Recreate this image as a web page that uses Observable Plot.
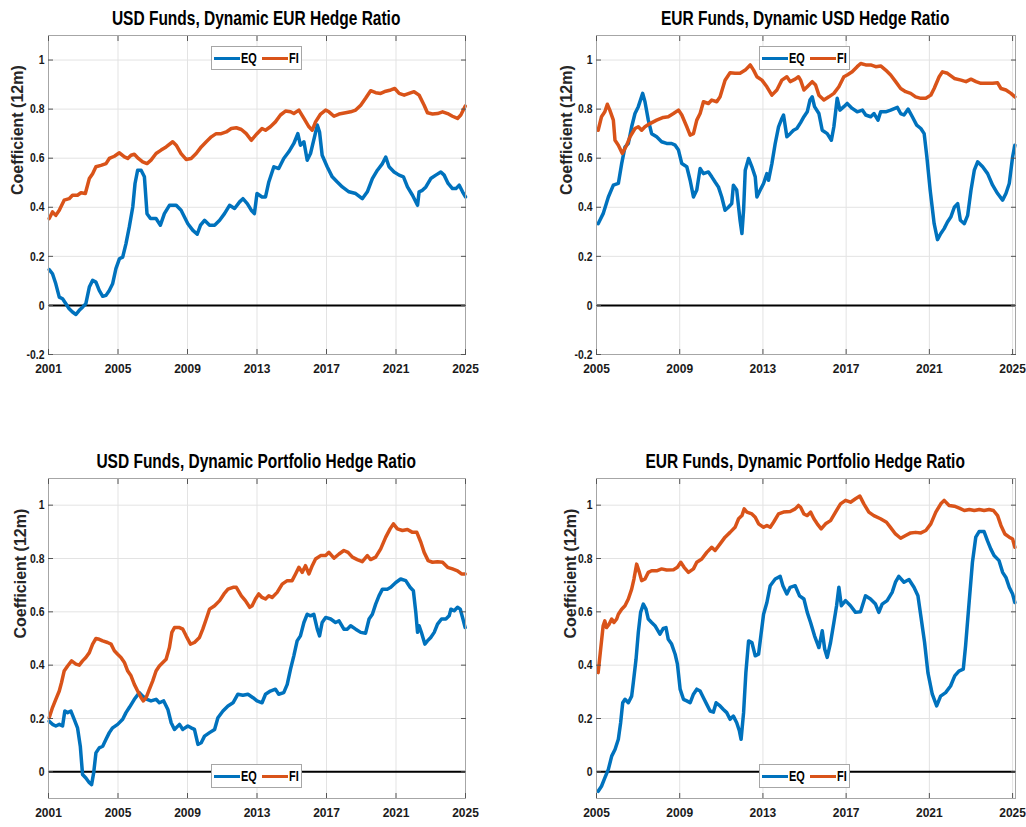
<!DOCTYPE html>
<html><head><meta charset="utf-8">
<script src="https://cdn.jsdelivr.net/npm/d3@7"></script>
<script src="https://cdn.jsdelivr.net/npm/@observablehq/plot@0.6"></script>
<style>
body{margin:0;background:#fff;}
#root{position:relative;width:1026px;height:827px;overflow:hidden;background:#fff;}
.title{position:absolute;height:30px;line-height:30px;text-align:center;white-space:nowrap;
  font-family:"Liberation Sans",Arial,sans-serif;font-weight:bold;font-size:20px;color:#000;}
.title span{display:inline-block;transform:scaleX(0.775);transform-origin:center;}
.panel{position:absolute;}
.panel svg{overflow:visible;}
.legend{position:absolute;border:1px solid #a6a6a6;background:#fff;box-sizing:border-box;
  font-family:"Liberation Sans",Arial,sans-serif;font-weight:bold;font-size:14px;color:#000;}
.legend .sw{position:absolute;width:26px;height:3px;top:10px;}
.legend .lt{position:absolute;top:3px;line-height:16px;transform:scaleX(0.78);transform-origin:left;white-space:nowrap;}
</style></head>
<body><div id="root"></div>
<script>
const seriesNames = ["EQ", "FI"];
const seriesColors = ["#0072BD", "#D95319"];
const yLabel = "Coefficient (12m)";
const titles = ["USD Funds, Dynamic EUR Hedge Ratio", "EUR Funds, Dynamic USD Hedge Ratio",
  "USD Funds, Dynamic Portfolio Hedge Ratio", "EUR Funds, Dynamic Portfolio Hedge Ratio"];
const xTicksUSD = [2001, 2005, 2009, 2013, 2017, 2021, 2025];
const xTicksEUR = [2005, 2009, 2013, 2017, 2021, 2025];
const yTicksTop = [-0.2, 0, 0.2, 0.4, 0.6, 0.8, 1];
const yTicksBottom = [0, 0.2, 0.4, 0.6, 0.8, 1];

// Panel 1: USD funds, EUR hedge ratio
const usdEurEQ = [[2001.04,0.146],[2001.23,0.129],[2001.42,0.088],[2001.62,0.034],[2001.81,0.027],[2002.0,0.007],[2002.19,-0.014],[2002.38,-0.027],[2002.58,-0.037],[2002.77,-0.02],[2002.96,-0.007],[2003.15,0.007],[2003.35,0.075],[2003.54,0.102],[2003.73,0.095],[2003.92,0.061],[2004.12,0.037],[2004.31,0.041],[2004.5,0.061],[2004.69,0.088],[2004.88,0.15],[2005.08,0.19],[2005.27,0.197],[2005.46,0.252],[2005.65,0.32],[2005.85,0.401],[2005.98,0.497],[2006.13,0.551],[2006.33,0.551],[2006.52,0.524],[2006.67,0.374],[2006.87,0.354],[2007.19,0.354],[2007.44,0.327],[2007.67,0.374],[2007.96,0.408],[2008.35,0.408],[2008.63,0.388],[2009.02,0.333],[2009.31,0.306],[2009.56,0.29],[2009.75,0.327],[2009.98,0.347],[2010.27,0.327],[2010.56,0.327],[2010.85,0.347],[2011.13,0.374],[2011.42,0.408],[2011.71,0.395],[2012.0,0.422],[2012.19,0.435],[2012.44,0.415],[2012.67,0.388],[2012.85,0.374],[2013.0,0.456],[2013.29,0.442],[2013.49,0.442],[2013.68,0.503],[2013.97,0.565],[2014.25,0.558],[2014.54,0.599],[2014.83,0.626],[2015.12,0.66],[2015.35,0.70],[2015.5,0.653],[2015.7,0.667],[2015.89,0.592],[2016.08,0.619],[2016.31,0.687],[2016.47,0.735],[2016.6,0.707],[2016.75,0.612],[2017.04,0.565],[2017.33,0.524],[2017.62,0.503],[2017.91,0.483],[2018.29,0.463],[2018.68,0.456],[2019.06,0.435],[2019.35,0.463],[2019.64,0.517],[2019.93,0.551],[2020.22,0.578],[2020.41,0.605],[2020.6,0.565],[2020.89,0.544],[2021.18,0.531],[2021.43,0.524],[2021.66,0.483],[2021.95,0.449],[2022.24,0.408],[2022.33,0.463],[2022.52,0.469],[2022.72,0.483],[2023.0,0.517],[2023.29,0.531],[2023.58,0.544],[2023.77,0.531],[2024.0,0.497],[2024.25,0.476],[2024.45,0.476],[2024.64,0.49],[2024.83,0.463],[2025.0,0.442]];
const usdEurFI = [[2001.04,0.354],[2001.23,0.381],[2001.42,0.367],[2001.62,0.388],[2001.9,0.429],[2002.19,0.435],[2002.38,0.449],[2002.67,0.449],[2002.87,0.459],[2003.12,0.456],[2003.35,0.517],[2003.54,0.537],[2003.73,0.565],[2004.02,0.571],[2004.31,0.578],[2004.5,0.599],[2004.79,0.608],[2005.08,0.622],[2005.37,0.605],[2005.56,0.599],[2005.75,0.612],[2005.94,0.616],[2006.17,0.599],[2006.42,0.585],[2006.67,0.578],[2006.9,0.592],[2007.19,0.619],[2007.48,0.633],[2007.77,0.646],[2008.15,0.667],[2008.35,0.653],[2008.63,0.619],[2008.92,0.595],[2009.21,0.599],[2009.5,0.619],[2009.79,0.646],[2010.08,0.667],[2010.37,0.687],[2010.65,0.70],[2010.94,0.70],[2011.23,0.707],[2011.52,0.721],[2011.81,0.724],[2012.1,0.717],[2012.38,0.70],[2012.67,0.673],[2013.0,0.70],[2013.29,0.721],[2013.49,0.714],[2013.77,0.728],[2014.06,0.748],[2014.35,0.776],[2014.64,0.792],[2014.93,0.789],[2015.12,0.782],[2015.41,0.796],[2015.7,0.762],[2015.99,0.728],[2016.18,0.714],[2016.37,0.748],[2016.66,0.78],[2016.95,0.796],[2017.14,0.789],[2017.43,0.771],[2017.72,0.78],[2018.1,0.785],[2018.39,0.789],[2018.68,0.796],[2018.97,0.816],[2019.25,0.844],[2019.54,0.875],[2019.83,0.867],[2020.12,0.864],[2020.41,0.873],[2020.7,0.878],[2020.93,0.884],[2021.18,0.864],[2021.47,0.857],[2021.75,0.864],[2022.04,0.871],[2022.33,0.857],[2022.62,0.816],[2022.81,0.785],[2023.1,0.78],[2023.39,0.782],[2023.68,0.789],[2023.97,0.782],[2024.25,0.771],[2024.54,0.762],[2024.73,0.776],[2024.98,0.812]];

// Panel 2: EUR funds, USD hedge ratio
const eurUsdEQ = [[2005.08,0.333],[2005.32,0.374],[2005.57,0.442],[2005.81,0.49],[2006.05,0.497],[2006.21,0.578],[2006.37,0.646],[2006.53,0.66],[2006.69,0.728],[2006.85,0.782],[2007.01,0.81],[2007.22,0.864],[2007.33,0.83],[2007.49,0.755],[2007.65,0.70],[2007.89,0.687],[2008.13,0.667],[2008.37,0.66],[2008.61,0.66],[2008.78,0.653],[2008.94,0.633],[2009.1,0.578],[2009.34,0.565],[2009.5,0.51],[2009.66,0.442],[2009.82,0.47],[2009.98,0.558],[2010.14,0.537],[2010.38,0.544],[2010.54,0.524],[2010.7,0.503],[2010.86,0.483],[2011.02,0.442],[2011.18,0.388],[2011.34,0.40],[2011.5,0.415],[2011.58,0.49],[2011.74,0.47],[2011.9,0.347],[2011.99,0.293],[2012.07,0.388],[2012.15,0.551],[2012.31,0.599],[2012.47,0.565],[2012.63,0.524],[2012.71,0.442],[2012.87,0.47],[2013.03,0.497],[2013.19,0.537],[2013.27,0.51],[2013.43,0.578],[2013.59,0.66],[2013.75,0.728],[2013.91,0.762],[2013.99,0.776],[2014.15,0.687],[2014.31,0.70],[2014.47,0.714],[2014.63,0.721],[2014.81,0.745],[2014.97,0.769],[2015.13,0.789],[2015.26,0.837],[2015.37,0.85],[2015.48,0.81],[2015.69,0.782],[2015.85,0.714],[2016.09,0.70],[2016.29,0.673],[2016.41,0.728],[2016.57,0.844],[2016.7,0.796],[2016.89,0.81],[2017.05,0.823],[2017.29,0.803],[2017.53,0.789],[2017.78,0.796],[2017.94,0.776],[2018.18,0.769],[2018.34,0.782],[2018.53,0.755],[2018.66,0.789],[2018.9,0.789],[2019.14,0.796],[2019.46,0.807],[2019.62,0.782],[2019.78,0.776],[2019.98,0.80],[2020.18,0.769],[2020.39,0.735],[2020.59,0.721],[2020.75,0.70],[2020.88,0.605],[2021.04,0.469],[2021.23,0.333],[2021.39,0.268],[2021.55,0.293],[2021.71,0.313],[2021.87,0.34],[2022.03,0.36],[2022.2,0.40],[2022.36,0.415],[2022.49,0.347],[2022.68,0.333],[2022.84,0.367],[2023.0,0.469],[2023.16,0.551],[2023.32,0.585],[2023.56,0.565],[2023.8,0.537],[2024.04,0.49],[2024.28,0.456],[2024.52,0.429],[2024.68,0.456],[2024.84,0.497],[2025.0,0.605],[2025.11,0.653]];
const eurUsdFI = [[2005.08,0.714],[2005.24,0.769],[2005.4,0.789],[2005.52,0.82],[2005.64,0.796],[2005.81,0.755],[2005.89,0.673],[2006.05,0.653],[2006.24,0.619],[2006.45,0.653],[2006.61,0.687],[2006.85,0.721],[2007.01,0.728],[2007.17,0.714],[2007.33,0.728],[2007.57,0.741],[2007.89,0.755],[2008.21,0.766],[2008.45,0.769],[2008.7,0.782],[2008.94,0.796],[2009.1,0.776],[2009.34,0.728],[2009.5,0.694],[2009.66,0.70],[2009.82,0.755],[2009.98,0.782],[2010.14,0.83],[2010.38,0.823],[2010.54,0.837],[2010.78,0.83],[2010.94,0.85],[2011.18,0.918],[2011.42,0.948],[2011.66,0.946],[2011.9,0.946],[2012.15,0.959],[2012.39,0.98],[2012.55,0.959],[2012.71,0.932],[2012.95,0.918],[2013.19,0.891],[2013.43,0.857],[2013.67,0.878],[2013.91,0.918],[2014.15,0.932],[2014.31,0.912],[2014.55,0.922],[2014.71,0.932],[2014.81,0.918],[2014.97,0.878],[2015.13,0.891],[2015.37,0.912],[2015.53,0.898],[2015.69,0.857],[2015.93,0.837],[2016.17,0.85],[2016.41,0.864],[2016.65,0.891],[2016.89,0.932],[2017.05,0.939],[2017.29,0.952],[2017.53,0.973],[2017.7,0.986],[2017.94,0.98],[2018.18,0.98],[2018.42,0.973],[2018.66,0.976],[2018.9,0.959],[2019.14,0.939],[2019.38,0.912],[2019.62,0.884],[2019.86,0.871],[2020.1,0.864],[2020.34,0.85],[2020.59,0.844],[2020.83,0.844],[2021.07,0.857],[2021.23,0.884],[2021.47,0.932],[2021.63,0.952],[2021.87,0.946],[2022.2,0.925],[2022.52,0.918],[2022.76,0.912],[2023.0,0.922],[2023.24,0.912],[2023.48,0.905],[2023.8,0.905],[2024.04,0.905],[2024.28,0.907],[2024.44,0.884],[2024.68,0.878],[2024.92,0.864],[2025.11,0.85]];

// Panel 3: USD funds, portfolio hedge ratio
const usdPortEQ = [[2001.04,0.19],[2001.23,0.178],[2001.42,0.172],[2001.62,0.178],[2001.81,0.172],[2001.94,0.228],[2002.1,0.222],[2002.29,0.228],[2002.48,0.197],[2002.67,0.165],[2002.83,0.096],[2002.96,-0.01],[2003.15,-0.023],[2003.35,-0.041],[2003.48,-0.048],[2003.6,-0.004],[2003.73,0.071],[2003.92,0.09],[2004.12,0.096],[2004.31,0.122],[2004.5,0.147],[2004.69,0.165],[2004.98,0.178],[2005.27,0.197],[2005.46,0.222],[2005.65,0.241],[2005.94,0.272],[2006.23,0.297],[2006.42,0.284],[2006.67,0.272],[2006.9,0.266],[2007.19,0.272],[2007.38,0.259],[2007.63,0.266],[2007.87,0.234],[2008.06,0.184],[2008.25,0.159],[2008.54,0.178],[2008.73,0.159],[2009.02,0.172],[2009.21,0.165],[2009.4,0.159],[2009.6,0.103],[2009.79,0.109],[2009.98,0.134],[2010.27,0.147],[2010.56,0.159],[2010.75,0.203],[2011.04,0.228],[2011.33,0.247],[2011.62,0.259],[2011.9,0.291],[2012.19,0.287],[2012.48,0.291],[2012.77,0.278],[2013.0,0.266],[2013.29,0.259],[2013.49,0.291],[2013.77,0.303],[2014.06,0.31],[2014.25,0.291],[2014.54,0.297],[2014.74,0.328],[2014.93,0.385],[2015.12,0.435],[2015.31,0.491],[2015.5,0.51],[2015.7,0.56],[2015.89,0.591],[2016.08,0.585],[2016.27,0.591],[2016.47,0.535],[2016.6,0.51],[2016.75,0.56],[2016.95,0.579],[2017.24,0.573],[2017.52,0.56],[2017.72,0.566],[2018.0,0.535],[2018.2,0.535],[2018.39,0.548],[2018.68,0.535],[2018.97,0.523],[2019.25,0.52],[2019.45,0.573],[2019.64,0.591],[2019.83,0.629],[2020.02,0.66],[2020.22,0.685],[2020.5,0.685],[2020.7,0.692],[2020.99,0.71],[2021.27,0.723],[2021.56,0.717],[2021.81,0.692],[2022.0,0.679],[2022.14,0.598],[2022.24,0.523],[2022.33,0.548],[2022.46,0.523],[2022.66,0.479],[2022.81,0.491],[2023.0,0.504],[2023.2,0.523],[2023.39,0.554],[2023.62,0.573],[2023.87,0.573],[2024.06,0.585],[2024.16,0.61],[2024.35,0.604],[2024.54,0.617],[2024.7,0.61],[2024.83,0.579],[2024.98,0.541]];
const usdPortFI = [[2001.04,0.203],[2001.23,0.241],[2001.42,0.272],[2001.62,0.303],[2001.75,0.335],[2001.9,0.378],[2002.1,0.397],[2002.33,0.416],[2002.58,0.404],[2002.77,0.40],[2002.96,0.416],[2003.15,0.429],[2003.35,0.447],[2003.54,0.479],[2003.73,0.50],[2003.92,0.497],[2004.12,0.491],[2004.4,0.485],[2004.6,0.479],[2004.79,0.454],[2004.98,0.441],[2005.17,0.429],[2005.37,0.41],[2005.56,0.378],[2005.75,0.36],[2005.94,0.328],[2006.13,0.303],[2006.33,0.278],[2006.46,0.266],[2006.62,0.278],[2006.81,0.31],[2007.0,0.341],[2007.19,0.378],[2007.38,0.397],[2007.58,0.41],[2007.77,0.422],[2007.96,0.466],[2008.1,0.523],[2008.25,0.541],[2008.54,0.541],[2008.73,0.535],[2008.92,0.51],[2009.17,0.479],[2009.4,0.485],[2009.69,0.504],[2009.88,0.535],[2010.08,0.573],[2010.27,0.61],[2010.56,0.623],[2010.85,0.642],[2011.1,0.667],[2011.33,0.685],[2011.62,0.692],[2011.81,0.692],[2012.1,0.66],[2012.33,0.642],[2012.58,0.617],[2012.72,0.623],[2012.91,0.648],[2013.1,0.667],[2013.29,0.654],[2013.49,0.648],[2013.68,0.66],[2013.87,0.654],[2014.16,0.673],[2014.45,0.704],[2014.74,0.717],[2015.02,0.717],[2015.22,0.742],[2015.41,0.767],[2015.6,0.748],[2015.79,0.773],[2015.99,0.742],[2016.18,0.773],[2016.37,0.798],[2016.66,0.811],[2016.95,0.811],[2017.14,0.823],[2017.43,0.801],[2017.72,0.817],[2018.0,0.83],[2018.24,0.823],[2018.49,0.805],[2018.77,0.796],[2019.06,0.788],[2019.35,0.811],[2019.54,0.796],[2019.83,0.805],[2020.12,0.836],[2020.41,0.88],[2020.66,0.911],[2020.85,0.93],[2021.08,0.911],[2021.37,0.905],[2021.66,0.909],[2021.95,0.898],[2022.2,0.898],[2022.43,0.861],[2022.62,0.823],[2022.85,0.792],[2023.1,0.786],[2023.39,0.788],[2023.68,0.786],[2023.97,0.767],[2024.25,0.761],[2024.54,0.754],[2024.77,0.742],[2024.98,0.742]];

// Panel 4: EUR funds, portfolio hedge ratio
const eurPortEQ = [[2005.08,-0.073],[2005.24,-0.054],[2005.4,-0.023],[2005.57,0.009],[2005.73,0.059],[2005.89,0.084],[2006.05,0.122],[2006.16,0.184],[2006.26,0.259],[2006.37,0.272],[2006.53,0.259],[2006.69,0.284],[2006.77,0.335],[2006.9,0.422],[2007.01,0.523],[2007.12,0.598],[2007.25,0.629],[2007.38,0.61],[2007.49,0.573],[2007.65,0.56],[2007.81,0.548],[2008.05,0.516],[2008.21,0.538],[2008.34,0.541],[2008.45,0.497],[2008.61,0.479],[2008.78,0.441],[2008.89,0.404],[2009.02,0.31],[2009.18,0.272],[2009.34,0.266],[2009.5,0.259],[2009.66,0.291],[2009.82,0.31],[2009.98,0.303],[2010.14,0.278],[2010.3,0.253],[2010.46,0.228],[2010.62,0.224],[2010.75,0.259],[2010.94,0.247],[2011.1,0.234],[2011.26,0.222],[2011.42,0.197],[2011.58,0.209],[2011.74,0.184],[2011.87,0.153],[2011.95,0.122],[2012.07,0.222],[2012.18,0.372],[2012.31,0.491],[2012.47,0.485],[2012.63,0.435],[2012.79,0.441],[2012.9,0.51],[2013.03,0.591],[2013.19,0.635],[2013.35,0.698],[2013.59,0.723],[2013.83,0.733],[2013.96,0.698],[2014.15,0.667],[2014.31,0.692],[2014.55,0.698],[2014.76,0.66],[2014.97,0.648],[2015.13,0.598],[2015.29,0.56],[2015.48,0.51],[2015.69,0.466],[2015.85,0.529],[2015.97,0.46],[2016.09,0.429],[2016.25,0.485],[2016.41,0.56],[2016.54,0.623],[2016.65,0.692],[2016.77,0.623],[2016.97,0.642],[2017.21,0.623],[2017.45,0.598],[2017.69,0.60],[2017.93,0.66],[2018.17,0.648],[2018.41,0.629],[2018.57,0.598],[2018.73,0.629],[2018.97,0.642],[2019.21,0.673],[2019.37,0.711],[2019.53,0.733],[2019.78,0.711],[2020.02,0.721],[2020.26,0.692],[2020.45,0.66],[2020.61,0.573],[2020.77,0.485],[2020.93,0.372],[2021.14,0.291],[2021.35,0.247],[2021.54,0.284],[2021.78,0.297],[2022.02,0.322],[2022.22,0.36],[2022.42,0.378],[2022.63,0.385],[2022.74,0.472],[2022.91,0.635],[2023.07,0.786],[2023.23,0.88],[2023.39,0.901],[2023.63,0.901],[2023.79,0.867],[2023.95,0.836],[2024.11,0.811],[2024.35,0.792],[2024.52,0.748],[2024.68,0.729],[2024.84,0.692],[2025.0,0.667],[2025.11,0.635]];
const eurPortFI = [[2005.08,0.372],[2005.2,0.46],[2005.32,0.548],[2005.4,0.566],[2005.48,0.541],[2005.61,0.554],[2005.73,0.573],[2005.84,0.56],[2005.97,0.573],[2006.05,0.591],[2006.21,0.61],[2006.37,0.623],[2006.53,0.648],[2006.69,0.685],[2006.8,0.723],[2006.93,0.779],[2007.06,0.748],[2007.17,0.717],[2007.33,0.723],[2007.49,0.748],[2007.65,0.754],[2007.89,0.754],[2008.13,0.761],[2008.37,0.757],[2008.7,0.758],[2008.89,0.767],[2009.05,0.786],[2009.21,0.767],[2009.42,0.748],[2009.66,0.761],[2009.82,0.786],[2010.06,0.798],[2010.3,0.823],[2010.54,0.842],[2010.7,0.83],[2010.94,0.855],[2011.18,0.88],[2011.42,0.898],[2011.66,0.917],[2011.83,0.949],[2011.99,0.961],[2012.1,0.986],[2012.23,0.974],[2012.47,0.967],[2012.63,0.955],[2012.79,0.93],[2013.03,0.917],[2013.19,0.924],[2013.35,0.917],[2013.51,0.936],[2013.75,0.967],[2013.99,0.974],[2014.31,0.976],[2014.55,0.986],[2014.71,0.999],[2014.81,0.992],[2014.97,0.967],[2015.13,0.961],[2015.29,0.974],[2015.45,0.949],[2015.61,0.93],[2015.8,0.911],[2016.01,0.93],[2016.25,0.942],[2016.49,0.974],[2016.73,1.005],[2016.97,1.018],[2017.21,1.011],[2017.45,1.024],[2017.66,1.034],[2017.85,1.005],[2018.09,0.974],[2018.33,0.961],[2018.65,0.949],[2018.94,0.936],[2019.13,0.917],[2019.37,0.892],[2019.62,0.876],[2019.86,0.886],[2020.1,0.896],[2020.34,0.898],[2020.59,0.896],[2020.83,0.905],[2021.07,0.93],[2021.31,0.974],[2021.55,1.005],[2021.71,1.018],[2021.95,0.999],[2022.2,0.996],[2022.44,0.989],[2022.68,0.98],[2022.92,0.984],[2023.16,0.98],[2023.4,0.984],[2023.63,0.98],[2023.87,0.984],[2024.08,0.98],[2024.28,0.961],[2024.44,0.924],[2024.63,0.892],[2024.84,0.88],[2025.0,0.873],[2025.11,0.842]];

const font = '"Liberation Sans",Arial,sans-serif';
const fmtY = d => d === 0 ? "0" : String(+d.toFixed(1));
const root = document.getElementById("root");

// horizontally condense tick label texts once they are in the page
function condense(svg, selector, factor) {
  svg.querySelectorAll(selector).forEach(t => {
    const w = t.getComputedTextLength();
    if (w > 0) {
      t.setAttribute("textLength", (w * factor).toFixed(2));
      t.setAttribute("lengthAdjust", "spacingAndGlyphs");
    }
  });
}

function makePanel(cfg) {
  const data = [
    ...cfg.eq.map(([year, value]) => ({year, value, series: seriesNames[0]})),
    ...cfg.fi.map(([year, value]) => ({year, value, series: seriesNames[1]}))
  ];
  const chart = Plot.plot({
    width: 513, height: cfg.height,
    marginTop: cfg.mt, marginBottom: cfg.mb, marginLeft: cfg.ml, marginRight: cfg.mr,
    style: {fontFamily: font, fontSize: "13px", fontWeight: "bold", color: "#262626", background: "transparent", overflow: "visible"},
    x: {domain: cfg.xDomain},
    y: {domain: cfg.yDomain},
    color: {domain: seriesNames, range: seriesColors},
    marks: [
      Plot.gridX(cfg.xTicks, {stroke: "#e3e3e3", strokeOpacity: 1, strokeWidth: 1}),
      Plot.gridY(cfg.yTicks, {stroke: "#e3e3e3", strokeOpacity: 1, strokeWidth: 1}),
      Plot.ruleY([0], {stroke: "#000", strokeWidth: 2}),
      Plot.line(data, {x: "year", y: "value", stroke: "series", z: "series", strokeWidth: 3.5, strokeLinejoin: "round", strokeLinecap: "round"}),
      Plot.frame({stroke: "#a6a6a6"}),
      Plot.axisX(cfg.xTicks, {anchor: "bottom", tickSize: -5, tickPadding: 15, tickFormat: d => String(d), label: null, stroke: "#555", fill: "#1a1a1a", fontSize: 12, ariaLabel: "x tick label"}),
      Plot.axisX(cfg.xTicks, {anchor: "top", tickSize: -5, tickFormat: () => "", label: null, stroke: "#555"}),
      Plot.axisY(cfg.yTicks, {anchor: "left", tickSize: -5, tickPadding: 9, tickFormat: fmtY, label: null, stroke: "#555", fill: "#1a1a1a", fontSize: 13}),
      Plot.axisY(cfg.yTicks, {anchor: "right", tickSize: -5, tickFormat: () => "", label: null, stroke: "#555"}),
      Plot.text([yLabel], {frameAnchor: "left", dx: -cfg.labelGap, rotate: -90, text: d => d, fontFamily: font, fontSize: 16, fontWeight: "bold", fill: "#262626"})
    ]
  });

  const wrap = document.createElement("div");
  wrap.className = "panel";
  wrap.style.left = cfg.left + "px";
  wrap.style.top = cfg.top + "px";
  wrap.appendChild(chart);
  root.appendChild(wrap);
  condense(chart, 'g[aria-label="y-axis tick label"] text', 0.8);
  condense(chart, 'g[aria-label="x-axis tick label"] text, g[aria-label="x tick label"] text', 0.87);

  const frameLeft = cfg.left + cfg.ml;
  const frameWidth = 513 - cfg.ml - cfg.mr;
  const t = document.createElement("div");
  t.className = "title";
  const ts = document.createElement("span");
  ts.textContent = cfg.title;
  t.appendChild(ts);
  t.style.left = frameLeft + "px";
  t.style.width = frameWidth + "px";
  t.style.top = cfg.titleTop + "px";
  root.appendChild(t);

  const lg = document.createElement("div");
  lg.className = "legend";
  lg.style.left = (frameLeft + 163) + "px";
  lg.style.top = cfg.legendTop + "px";
  lg.style.width = "91px";
  lg.style.height = "24px";
  seriesNames.forEach((name, i) => {
    const sw = document.createElement("span");
    sw.className = "sw";
    sw.style.left = (2 + i * 48) + "px";
    sw.style.background = seriesColors[i];
    const tx = document.createElement("span");
    tx.className = "lt";
    tx.style.left = (29 + i * 48) + "px";
    tx.textContent = name;
    lg.appendChild(sw); lg.appendChild(tx);
  });
  root.appendChild(lg);
}

const topCfg = {top: 30, height: 370, mt: 5, mb: 46, titleTop: 3, legendTop: 46, yDomain: [-0.2, 1.1], yTicks: yTicksTop};
const botCfg = {top: 475, height: 352, mt: 3, mb: 29, titleTop: 446, legendTop: 764, yDomain: [-0.1, 1.1], yTicks: yTicksBottom};
const leftCfg = {left: 0, ml: 48, mr: 48, xDomain: [2001, 2025], xTicks: xTicksUSD};
const rightCfg = {left: 513, ml: 83, mr: 11, xDomain: [2005, 2025.14], xTicks: xTicksEUR};

makePanel({...topCfg, ...leftCfg, title: titles[0], eq: usdEurEQ, fi: usdEurFI, labelGap: 31});
makePanel({...topCfg, ...rightCfg, title: titles[1], eq: eurUsdEQ, fi: eurUsdFI, labelGap: 30});
makePanel({...botCfg, ...leftCfg, title: titles[2], eq: usdPortEQ, fi: usdPortFI, labelGap: 28});
makePanel({...botCfg, ...rightCfg, title: titles[3], eq: eurPortEQ, fi: eurPortFI, labelGap: 26});
</script>
</body></html>
